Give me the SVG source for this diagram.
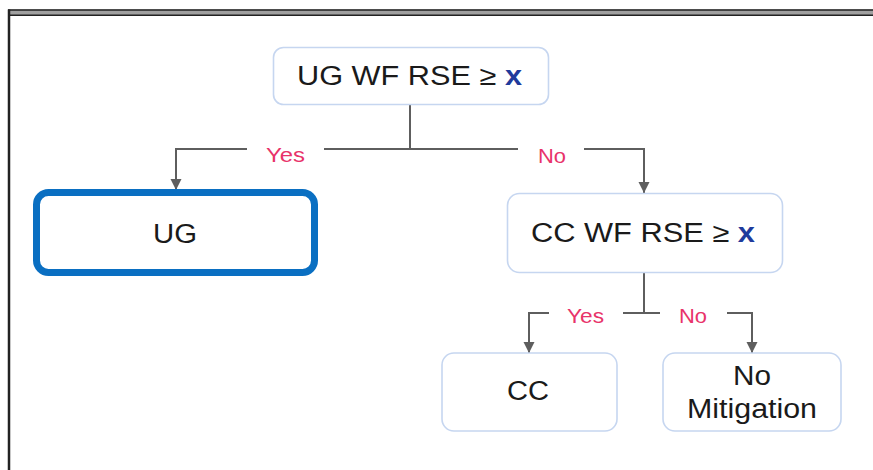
<svg xmlns="http://www.w3.org/2000/svg" width="873" height="470" viewBox="0 0 873 470">
  <style>
    .node { fill: #ffffff; stroke: #C6D6F0; stroke-width: 1.6; }
    .hl { fill: #ffffff; stroke: #0A6FC2; stroke-width: 7; }
    .t { font-family: "Liberation Sans", Arial, sans-serif; font-size: 27px; fill: #1a1a1a; text-anchor: middle; }
    .x { fill: #1F3B9C; font-weight: bold; }
    .lbl { font-family: "Liberation Sans", Arial, sans-serif; font-size: 20px; fill: #E8336A; text-anchor: middle; }
    .conn { fill: none; stroke: #5E5E5E; stroke-width: 2; }
  </style>
  <defs>
    <marker id="arr" markerUnits="userSpaceOnUse" markerWidth="12" markerHeight="12" refX="11" refY="6" orient="auto">
      <path d="M0,0.5 L11,6 L0,11.5 z" fill="#5E5E5E"/>
    </marker>
  </defs>
  <rect x="0" y="0" width="873" height="470" fill="#ffffff"/>
  <g id="frame">
    <rect x="8" y="9.5" width="865" height="6" fill="#A0A0A0"/>
    <line x1="8" y1="10" x2="873" y2="10" stroke="#222" stroke-width="1.6"/>
    <line x1="8" y1="15.2" x2="873" y2="15.2" stroke="#222" stroke-width="1.6"/>
    <line x1="9" y1="9.5" x2="9" y2="470" stroke="#222" stroke-width="2.5"/>
  </g>
  <g id="connectors">
    <path class="conn" d="M410,104 V149 M324,149 H518"/>
    <path class="conn" d="M247,149 H176 V190" marker-end="url(#arr)"/>
    <path class="conn" d="M584,149 H644 V193" marker-end="url(#arr)"/>
    <path class="conn" d="M644,273 V313 M623,313 H660"/>
    <path class="conn" d="M549,313 H529 V353" marker-end="url(#arr)"/>
    <path class="conn" d="M727,313 H752 V353" marker-end="url(#arr)"/>
    <text class="lbl" x="285.5" y="162" textLength="39" lengthAdjust="spacingAndGlyphs">Yes</text>
    <text class="lbl" x="552" y="163" textLength="28" lengthAdjust="spacingAndGlyphs">No</text>
    <text class="lbl" x="585.5" y="323" textLength="37" lengthAdjust="spacingAndGlyphs">Yes</text>
    <text class="lbl" x="693" y="323" textLength="28" lengthAdjust="spacingAndGlyphs">No</text>
  </g>
  <g id="n-ugwf">
    <rect class="node" x="273.5" y="47.5" width="275" height="57" rx="10"/>
    <text class="t" x="409.5" y="84.5" textLength="225" lengthAdjust="spacingAndGlyphs">UG WF RSE ≥ <tspan class="x">x</tspan></text>
  </g>
  <g id="n-ug">
    <rect class="hl" x="36.5" y="192.5" width="278" height="80" rx="12"/>
    <text class="t" x="175" y="243" textLength="44" lengthAdjust="spacingAndGlyphs">UG</text>
  </g>
  <g id="n-ccwf">
    <rect class="node" x="507.5" y="193.5" width="275" height="79" rx="12"/>
    <text class="t" x="643" y="242" textLength="224" lengthAdjust="spacingAndGlyphs">CC WF RSE ≥ <tspan class="x">x</tspan></text>
  </g>
  <g id="n-cc">
    <rect class="node" x="442" y="353" width="175" height="78" rx="12"/>
    <text class="t" x="528" y="400" textLength="42" lengthAdjust="spacingAndGlyphs">CC</text>
  </g>
  <g id="n-nomit">
    <rect class="node" x="663" y="353" width="178" height="78" rx="12"/>
    <text class="t" x="752" y="385" textLength="38" lengthAdjust="spacingAndGlyphs">No</text>
    <text class="t" x="752" y="418" textLength="130" lengthAdjust="spacingAndGlyphs">Mitigation</text>
  </g>
</svg>
